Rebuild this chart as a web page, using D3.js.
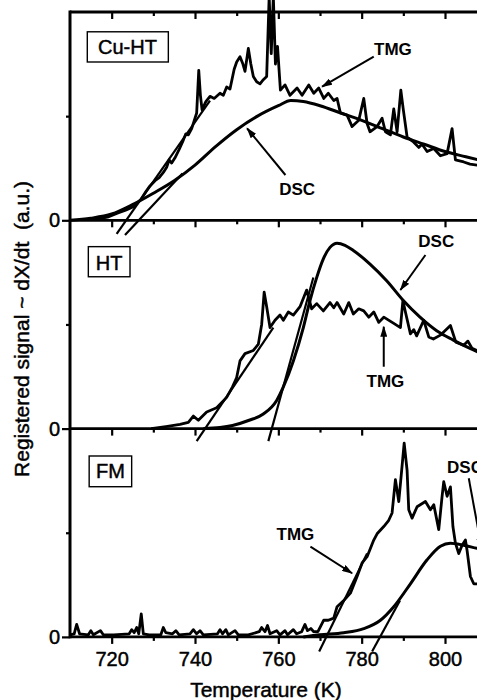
<!DOCTYPE html>
<html>
<head>
<meta charset="utf-8">
<script src="https://d3js.org/d3.v7.min.js"></script>
<style>
  body { margin: 0; background: #fff; }
  svg { display: block; font-family: "Liberation Sans", Arial, sans-serif; }
</style>
</head>
<body>
<div id="chart"></div>
<script>
// temperatures (K) and signals (a.u.), one array per curve
const cuTmg = [[716,0.01],[719,0.03],[721.5,0.07],[723.5,0.1],[725.2,0.13],[727,0.2],[728.3,0.28],[729.2,0.33],[730.4,0.38],[731.4,0.41],[732.4,0.46],[733.2,0.51],[733.8,0.58],[734.4,0.55],[735.2,0.6],[736.2,0.68],[737.2,0.77],[737.8,0.83],[738.4,0.82],[739.2,0.88],[740.4,1.03],[740.9,1.44],[741.3,1.2],[741.7,1.06],[742.6,1.14],[743.6,1.19],[744.6,1.17],[746,1.22],[746.8,1.2],[747.6,1.28],[748.4,1.26],[749.4,1.45],[750,1.52],[750.8,1.57],[751.5,1.5],[752,1.43],[752.8,1.65],[753.4,1.5],[754,1.38],[754.8,1.33],[755.6,1.31],[756.4,1.35],[757.2,1.38],[757.8,2.15],[758.3,1.6],[758.8,2.15],[759.3,1.5],[759.8,1.67],[760.5,1.25],[761.6,1.3],[762.8,1.2],[764.5,1.27],[765.7,1.2],[767.3,1.3],[768.5,1.22],[769.7,1.27],[770.9,1.17],[772,1.22],[773.3,1.15],[774.1,1.17],[774.9,1.03],[776.5,1.01],[777.7,0.9],[779.3,0.96],[780.5,1.17],[781.3,0.93],[782,0.85],[783.7,0.9],[784.9,0.98],[785.7,0.85],[786.9,0.82],[787.7,1.07],[788.5,0.85],[789.4,1.25],[790,1.06],[790.9,0.8],[792.5,0.75],[793.7,0.7],[794.5,0.73],[795.7,0.66],[797.3,0.69],[798.9,0.62],[800.5,0.64],[801.7,0.88],[802.5,0.58],[804.5,0.56],[806,0.54],[807.7,0.53],[810,0.52]];
const cuDsc = [[710,0.0],[715,0.02],[720,0.06],[725,0.15],[730,0.26],[735,0.38],[740,0.53],[745,0.71],[750,0.87],[755,1.0],[760,1.1],[763,1.15],[766,1.14],[770,1.1],[775,1.03],[780,0.96],[785,0.88],[790,0.8],[795,0.73],[800,0.66],[805,0.61],[810,0.56]];
const cuTangents = [[[721.2,-0.13],[743.6,1.15]], [[723.2,-0.14],[737,0.45]]];

const htTmg = [[729.5,0.0],[733,0.02],[736.4,0.04],[738.4,0.06],[739.6,0.12],[740.8,0.08],[742.8,0.16],[745.2,0.2],[747.6,0.3],[749,0.4],[750,0.49],[750.8,0.65],[752,0.72],[754,0.75],[755.2,0.81],[756,1.0],[756.6,1.31],[757.2,1.17],[758,0.97],[759.2,1.04],[760.4,1.09],[761.2,1.04],[762.4,1.12],[763.6,1.09],[765.2,1.17],[766.8,1.33],[768,1.15],[769.2,1.2],[770.8,1.13],[772.4,1.21],[773.3,1.16],[774.1,1.21],[775.7,1.1],[776.9,1.21],[778,1.1],[779.3,1.15],[780.5,1.13],[781.7,1.07],[782.9,1.12],[784.1,1.02],[785.3,1.07],[787.7,1.01],[789.3,0.97],[789.9,1.23],[790.5,1.12],[791.7,0.91],[792.5,0.95],[793.2,0.89],[794.9,1.04],[796.1,0.88],[797.2,0.86],[799,0.9],[801.3,0.99],[802.6,0.83],[804.5,0.8],[805.5,0.84],[806.5,0.77],[807.7,0.75],[810,0.72]];
const htDsc = [[742,0.0],[746,0.01],[749,0.03],[753,0.08],[756.4,0.14],[759.6,0.27],[761.2,0.4],[763.6,0.65],[766,0.97],[767.6,1.23],[769.2,1.45],[770.8,1.63],[772.4,1.74],[774.1,1.78],[776,1.76],[778,1.71],[782,1.58],[786,1.42],[790,1.23],[794,1.07],[798,0.94],[802,0.85],[806,0.77],[810,0.7]];
const htTangents = [[[740.4,-0.12],[758.8,0.97]], [[757.6,-0.12],[768.4,1.45]]];

const fmTmg = [[710,0.02],[711,0.03],[711.6,0.12],[712.3,0.03],[714.4,0.02],[715,0.06],[715.6,0.02],[717.3,0.06],[718,0.02],[720.5,0.02],[724.2,0.03],[724.8,0.07],[725.4,0.04],[726,0.09],[726.5,0.03],[727.1,0.22],[727.6,0.03],[729,0.02],[731.8,0.02],[732.4,0.09],[733,0.04],[734.6,0.03],[735.4,0.06],[736.2,0.02],[738.8,0.03],[739.6,0.07],[740.4,0.03],[741.2,0.06],[742,0.02],[745.4,0.03],[746,0.07],[746.6,0.03],[747.4,0.07],[748,0.02],[749.6,0.06],[750.4,0.02],[752.8,0.02],[755.4,0.05],[756,0.09],[756.8,0.05],[757.4,0.11],[758,0.03],[759.6,0.06],[760.4,0.02],[761.6,0.06],[762.2,0.02],[763.6,0.07],[764.4,0.03],[765.6,0.05],[766.4,0.12],[767,0.06],[767.8,0.08],[768.5,0.05],[769.5,0.05],[770.9,0.16],[772,0.16],[773.3,0.18],[774.1,0.29],[775.7,0.35],[777.3,0.42],[778.9,0.58],[780.1,0.71],[781.3,0.77],[782.9,0.93],[783.7,0.99],[785.3,1.06],[786.5,1.12],[787.3,1.19],[788.1,1.51],[788.9,1.3],[789.3,1.47],[790.2,1.86],[790.9,1.6],[791.3,1.22],[792.1,1.14],[793.3,1.25],[795.3,1.3],[796.5,1.22],[797.3,1.27],[798.5,1.03],[799.3,1.35],[799.7,1.49],[800.5,1.35],[801.3,1.44],[801.9,1.06],[802.5,0.9],[803.3,0.8],[804.1,0.88],[804.9,0.93],[805.3,0.83],[806.1,0.58],[806.9,0.51],[807.7,0.51],[810,0.5]];
const fmDsc = [[766,0.0],[770,0.02],[775.7,0.04],[780.5,0.08],[784.5,0.16],[787.7,0.29],[791.7,0.51],[795.7,0.74],[798.9,0.87],[801.3,0.9],[804.5,0.88],[807.7,0.85],[810,0.83]];
const fmTangents = [[[769.8,-0.14],[781.3,0.8]], [[782.5,-0.14],[789.2,0.35]]];

const majorTicks = [720, 740, 760, 780, 800];
const minorTicks = [730, 750, 770, 790];
const panelNames = ['Cu-HT', 'HT', 'FM'];

// label boxes and annotations, in data units of each panel
const nameBoxes = [
    {t0: 714.15, t1: 733.6, v0: 1.52, v1: 1.81, tx: 723.8, ty: 1.592},
    {t0: 714.4, t1: 724.4, v0: 1.458, v1: 1.747, tx: 719.4, ty: 1.523},
    {t0: 714.6, t1: 724.8, v0: 1.442, v1: 1.737, tx: 719.7, ty: 1.526}
];
const notes = [
    [{text: 'TMG', t: 787.5, v: 1.587, anchor: 'middle', from: [782.9, 1.571], to: [770.5, 1.283]},
     {text: 'DSC', t: 764.5, v: 0.243, anchor: 'middle', from: [761.7, 0.435], to: [752.5, 0.883]}],
    [{text: 'DSC', t: 797.9, v: 1.747, anchor: 'middle', from: [795.3, 1.667], to: [789.3, 1.331]},
     {text: 'TMG', t: 785.7, v: 0.402, anchor: 'middle', from: [785.3, 0.594], to: [785.3, 0.978]}],
    [{text: 'TMG', t: 764.1, v: 0.93, anchor: 'middle', from: [767.7, 0.866], to: [777.7, 0.611]},
     {text: 'DSC', t: 800.5, v: 1.571, anchor: 'start', from: [805.7, 1.523], to: [808.8, 0.85]}]
];

const panels = [
    {tmg: cuTmg, dsc: cuDsc, tangents: cuTangents},
    {tmg: htTmg, dsc: htDsc, tangents: htTangents},
    {tmg: fmTmg, dsc: fmDsc, tangents: fmTangents}
];

const width = 477, height = 700;
const marginLeft = 70, marginTop = 12, panelH = 208.3;

const svg = d3.select('#chart').append('svg')
    .attr('width', width)
    .attr('height', height);

svg.append('defs').append('marker')
    .attr('id', 'head')
    .attr('markerUnits', 'userSpaceOnUse')
    .attr('markerWidth', 11).attr('markerHeight', 7)
    .attr('refX', 10).attr('refY', 3.5)
    .attr('orient', 'auto')
  .append('path')
    .attr('d', 'M0,0 L11,3.5 L0,7 Z')
    .attr('fill', '#000');

const x = d3.scaleLinear().domain([710, 810]).range([marginLeft, marginLeft + 416.67]);

// scanned look: give regular text a faint outline
const heavy = sel => sel.attr('stroke', '#000').attr('stroke-width', 0.45);

panels.forEach((p, i) => {
    let zero = marginTop + panelH * (i + 1);
    let y = d3.scaleLinear().domain([0, 2]).range([zero, zero - panelH]);
    let g = svg.append('g');

    let line = d3.line().x(d => x(d[0])).y(d => y(d[1]));

    // tangent construction lines
    g.selectAll('.tangent')
        .data(p.tangents)
        .enter().append('path')
        .attr('class', 'tangent')
        .attr('d', line)
        .attr('fill', 'none')
        .attr('stroke', '#000')
        .attr('stroke-width', 2.2);

    g.append('path')
        .datum(p.dsc)
        .attr('d', line.curve(d3.curveMonotoneX))
        .attr('fill', 'none')
        .attr('stroke', '#000')
        .attr('stroke-width', 3);

    g.append('path')
        .datum(p.tmg)
        .attr('d', line.curve(d3.curveLinear))
        .attr('fill', 'none')
        .attr('stroke', '#000')
        .attr('stroke-width', 2.8)
        .attr('stroke-linejoin', 'round');

    // sample name box
    let b = nameBoxes[i];
    g.append('rect')
        .attr('x', x(b.t0)).attr('y', y(b.v1))
        .attr('width', x(b.t1) - x(b.t0))
        .attr('height', y(b.v0) - y(b.v1))
        .attr('fill', '#fff')
        .attr('stroke', '#000')
        .attr('stroke-width', 1.4);
    g.append('text')
        .attr('x', x(b.tx)).attr('y', y(b.ty))
        .attr('text-anchor', 'middle')
        .attr('font-size', 20)
        .call(heavy)
        .text(panelNames[i]);

    notes[i].forEach(n => {
        g.append('text')
            .attr('x', x(n.t)).attr('y', y(n.v))
            .attr('text-anchor', n.anchor)
            .attr('font-size', 17)
            .attr('font-weight', 'bold')
            .text(n.text);
        g.append('line')
            .attr('x1', x(n.from[0])).attr('y1', y(n.from[1]))
            .attr('x2', x(n.to[0])).attr('y2', y(n.to[1]))
            .attr('stroke', '#000')
            .attr('stroke-width', 2)
            .attr('marker-end', 'url(#head)');
    });

    // y ticks: labelled zero and an unlabelled middle tick
    svg.append('g')
        .attr('transform', `translate(${marginLeft},0)`)
        .call(d3.axisLeft(y).tickValues([0]).tickFormat(d3.format('d')).tickSize(8).tickPadding(2))
        .call(a => a.select('.domain').remove())
        .call(a => a.selectAll('text').attr('font-size', 20).attr('font-family', null).call(heavy));
    svg.append('g')
        .attr('transform', `translate(${marginLeft},0)`)
        .call(d3.axisLeft(y).tickValues([1]).tickFormat('').tickSize(4))
        .call(a => a.select('.domain').remove());
});

// horizontal frame lines with ticks pointing down, labels only on the bottom one
d3.range(4).forEach(k => {
    let yy = marginTop + panelH * k;
    let axMajor = svg.append('g')
        .attr('transform', `translate(0,${yy})`)
        .call(d3.axisBottom(x).tickValues(majorTicks).tickSize(7).tickSizeOuter(0).tickPadding(8)
            .tickFormat(k === 3 ? d3.format('d') : ''));
    axMajor.selectAll('text').attr('font-size', 20).attr('font-family', null).call(heavy);
    axMajor.select('.domain').remove();
    svg.append('g')
        .attr('transform', `translate(0,${yy})`)
        .call(d3.axisBottom(x).tickValues(minorTicks).tickSize(4).tickFormat(''))
        .call(a => a.select('.domain').remove());
    svg.append('line')
        .attr('x1', marginLeft).attr('x2', width)
        .attr('y1', yy).attr('y2', yy)
        .attr('stroke', '#000')
        .attr('stroke-width', 2.8);
});

svg.selectAll('.tick line').attr('stroke-width', 2.2);

// left axis line
svg.append('line')
    .attr('x1', marginLeft).attr('x2', marginLeft)
    .attr('y1', marginTop - 1.4).attr('y2', marginTop + panelH * 3 + 1.4)
    .attr('stroke', '#000')
    .attr('stroke-width', 3);

svg.append('text')
    .attr('x', 266).attr('y', 697)
    .attr('text-anchor', 'middle')
    .attr('font-size', 21)
    .call(heavy)
    .text('Temperature (K)');

svg.append('text')
    .attr('transform', 'rotate(-90)')
    .attr('x', -329).attr('y', 29)
    .attr('text-anchor', 'middle')
    .attr('font-size', 21)
    .attr('xml:space', 'preserve')
    .style('white-space', 'pre')
    .call(heavy)
    .text('Registered signal ~ dX/dt  (a.u.)');
</script>
</body>
</html>
